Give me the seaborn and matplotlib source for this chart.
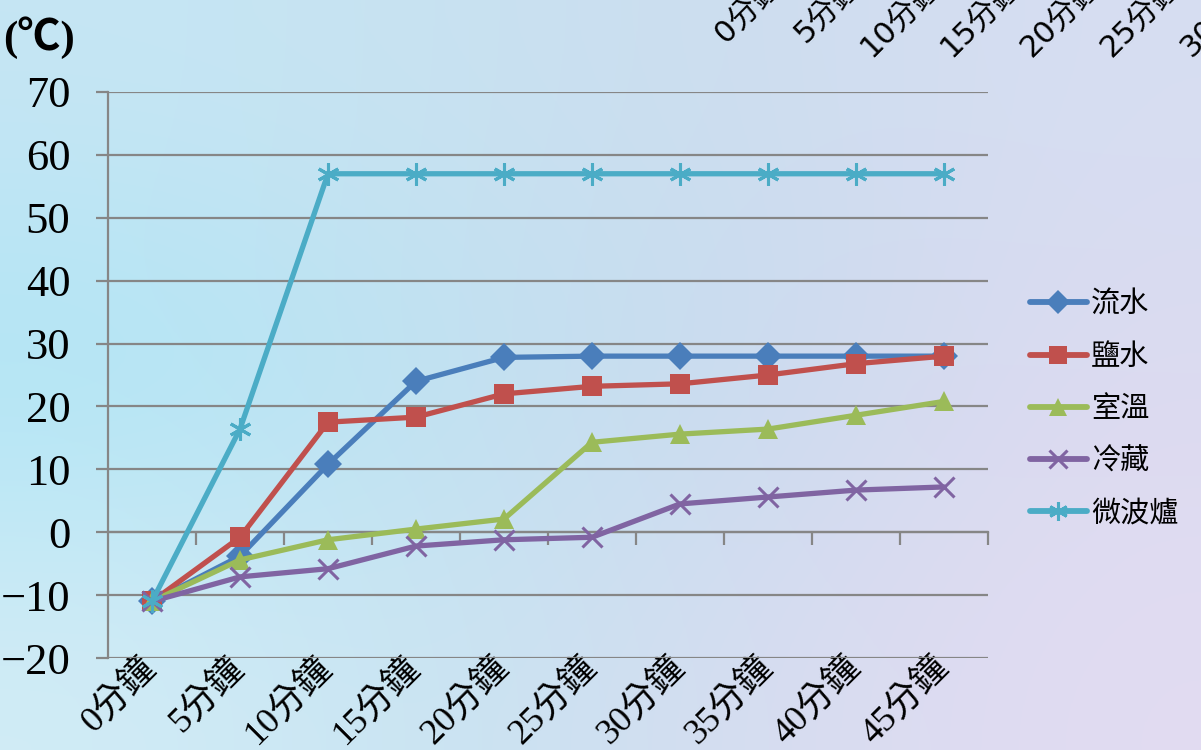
import numpy as np
import pandas as pd
import matplotlib
matplotlib.use("Agg")
import matplotlib.pyplot as plt
import matplotlib.transforms as mtransforms
from matplotlib.lines import Line2D
import seaborn as sns

# ---------------- data ----------------
times = ["0分鐘", "5分鐘", "10分鐘", "15分鐘", "20分鐘", "25分鐘", "30分鐘", "35分鐘", "40分鐘", "45分鐘"]
series_names = ["流水", "鹽水", "室溫", "冷藏", "微波爐"]
flowing_water = [-11, -3.8, 10.8, 24.0, 27.8, 28.0, 28.0, 28.0, 28.0, 28.0]
salt_water = [-11, -0.8, 17.5, 18.3, 22.0, 23.2, 23.6, 25.0, 26.8, 28.0]
room_temp = [-11, -4.4, -1.2, 0.5, 2.1, 14.3, 15.6, 16.4, 18.6, 20.8]
fridge = [-11, -7.1, -5.8, -2.2, -1.2, -0.8, 4.5, 5.6, 6.7, 7.2]
microwave = [-11, 16.4, 57, 57, 57, 57, 57, 57, 57, 57]
y_ticks = [-20, -10, 0, 10, 20, 30, 40, 50, 60, 70]
y_unit = "(℃)"

values = [flowing_water, salt_water, room_temp, fridge, microwave]
colors = ["#4A7EBB", "#C0504D", "#9BBB59", "#8064A2", "#4BACC6"]
markers = ["D", "s", "^", "x", (6, 2, 0)]
msizes = [14, 15, 15, 15, 16]

df = pd.DataFrame({
    "time": np.tile(times, len(series_names)),
    "temp": np.concatenate(values),
    "series": np.repeat(series_names, len(times)),
})

sns.set_theme(style="white")
plt.rcParams["font.family"] = ["Liberation Serif", "Noto Sans CJK TC", "DejaVu Sans"]
plt.rcParams["axes.unicode_minus"] = True
plt.rcParams["text.color"] = "black"
FAM = ["Liberation Serif", "Noto Sans CJK TC", "DejaVu Sans"]

fig = plt.figure(figsize=(12.01, 7.5), dpi=100)

# background gradient
bg = fig.add_axes([0, 0, 1, 1], zorder=-10)
grid = np.array([
    [(198, 230, 244), (200, 226, 241), (205, 221, 239), (215, 222, 242)],
    [(172, 229, 245), (192, 225, 241), (200, 218, 238), (220, 218, 240)],
    [(210, 236, 246), (200, 228, 242), (214, 220, 240), (226, 220, 242)],
], dtype=float) / 255.0
bg.imshow(grid, aspect="auto", interpolation="bicubic", extent=[0, 1, 0, 1])
bg.set_axis_off()

ax = fig.add_axes([108 / 1201, 92 / 750, (988 - 108) / 1201, (658 - 92) / 750])
ax.set_facecolor("none")

for name, col, mk, ms in zip(series_names, colors, markers, msizes):
    sub = df[df["series"] == name]
    sns.lineplot(data=sub, x="time", y="temp", ax=ax, color=col, marker=mk,
                 markersize=ms, markeredgewidth=2.2 if mk in ("x", (6, 2, 0)) else 0,
                 markeredgecolor=col, linewidth=3.8, label=name, sort=False,
                 legend=False, zorder=3)

ax.set_xlim(-0.5, len(times) - 0.5)
ax.set_ylim(-20, 70)
ax.set_yticks(y_ticks)
ax.set_xticks(range(len(times)))
ax.set_xlabel("")
ax.set_ylabel("")

gridc = "#868686"
ax.grid(axis="y", color=gridc, linewidth=1.6)
ax.grid(axis="x", visible=False)
for s in ["top", "right", "bottom"]:
    ax.spines[s].set_visible(False)
ax.spines["left"].set_color(gridc)
ax.spines["left"].set_linewidth(1.6)

ax.tick_params(axis="y", direction="out", length=9, width=1.6, color=gridc,
               pad=18, labelsize=32, left=True, labelcolor="black")
ax.tick_params(axis="x", length=0, pad=-5, labelsize=26, labelcolor="black")
for lab in ax.get_yticklabels():
    lab.set_family(FAM)
ax.set_xticklabels(times, rotation=45, ha="right", rotation_mode="anchor", family=FAM)
off = mtransforms.ScaledTranslation(-12 / 100, 0, fig.dpi_scale_trans)
for lab in ax.get_xticklabels():
    lab.set_transform(lab.get_transform() + off)

# category axis crossing at y = 0 with tick marks between categories
sec = ax.secondary_xaxis(20 / 90)
sec.set_xticks([i + 0.5 for i in range(len(times))])
sec.tick_params(direction="out", length=9, width=1.6, color=gridc, labelbottom=False)
sec.spines["bottom"].set_color(gridc)
sec.spines["bottom"].set_linewidth(1.6)
for s in ["top", "left", "right"]:
    sec.spines[s].set_visible(False)

# unit label
fig.text(3 / 1201, 1 - 38 / 750, y_unit, fontsize=31, fontweight="bold",
         family=FAM, ha="left", va="center", color="black")

# stray duplicated labels at top right (mostly cut off by the figure edge)
for i, t in enumerate(times):
    x = 777 + 80 * i
    fig.text(x / 1201, 1 + 18 / 750, t, rotation=45, rotation_mode="anchor",
             ha="right", va="center", fontsize=22, color="black",
             family=["DejaVu Sans", "Noto Sans CJK TC"])

# legend
handles = [Line2D([0], [0], color=c, marker=m, markersize=ms * 0.85, linewidth=4.2,
                  markeredgewidth=2.2 if m in ("x", (6, 2, 0)) else 0, markeredgecolor=c,
                  solid_capstyle="round")
           for c, m, ms in zip(colors, markers, msizes)]
leg = fig.legend(handles, series_names, loc="center left",
                 bbox_to_anchor=(1030 / 1201, 1 - 409 / 750), frameon=False,
                 borderaxespad=0, borderpad=0,
                 prop={"family": ["Noto Sans CJK TC"], "size": 21},
                 handlelength=1.95, handletextpad=0.15, labelspacing=0.76)

fig.savefig("out.png", dpi=100)
